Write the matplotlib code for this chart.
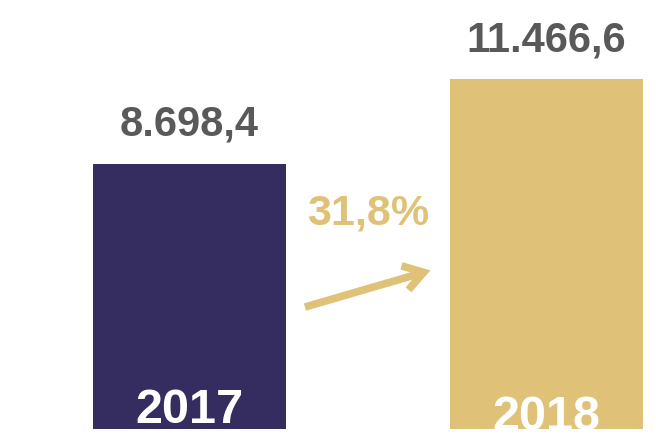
import matplotlib
matplotlib.use('Agg')
import matplotlib.pyplot as plt

# datos
years = ['2017', '2018']
values = [8698.4, 11466.6]
colors = ['#352d5f', '#dfc277']

plt.rcParams['font.family'] = ['Liberation Sans', 'DejaVu Sans']


def fmt(v):
    # formato 8.698,4
    s = f'{v:,.1f}'
    return s.replace(',', 'X').replace('.', ',').replace('X', '.')


fig = plt.figure(figsize=(6.56, 4.39), dpi=100)
ax = fig.add_axes([0, 0, 1, 1])
ax.set_xlim(-0.529, 1.306)
ax.set_ylim(-295, 14100)
ax.axis('off')

bars = ax.bar(range(len(years)), values, width=0.54, color=colors)

for i, (b, v, y) in enumerate(zip(bars, values, years)):
    ax.annotate(fmt(v), (i, v), xytext=(0, 29), textcoords='offset points',
                ha='center', va='center', fontsize=30, fontweight='bold', color='#595959')
    t = ax.annotate(y, (i, 0), xytext=(0, 14 if i == 0 else 9), textcoords='offset points',
                    ha='center', va='center', fontsize=35, fontweight='bold', color='white')
    t.set_clip_path(b)

# crecimiento
growth = (values[1] / values[0] - 1) * 100
ax.text(0.5, 7115, f'{growth:.1f}%'.replace('.', ','), ha='center', va='center',
        fontsize=31, fontweight='bold', color='#dfc277')

arr = ax.annotate('', xy=(0.675, 5200), xytext=(0.324, 4000),
                  arrowprops=dict(arrowstyle='->, head_length=1.4, head_width=0.9',
                                  lw=5.5, color='#dfc277', capstyle='butt',
                                  joinstyle='miter', shrinkA=0, shrinkB=0))

fig.savefig('out.png', dpi=100)
